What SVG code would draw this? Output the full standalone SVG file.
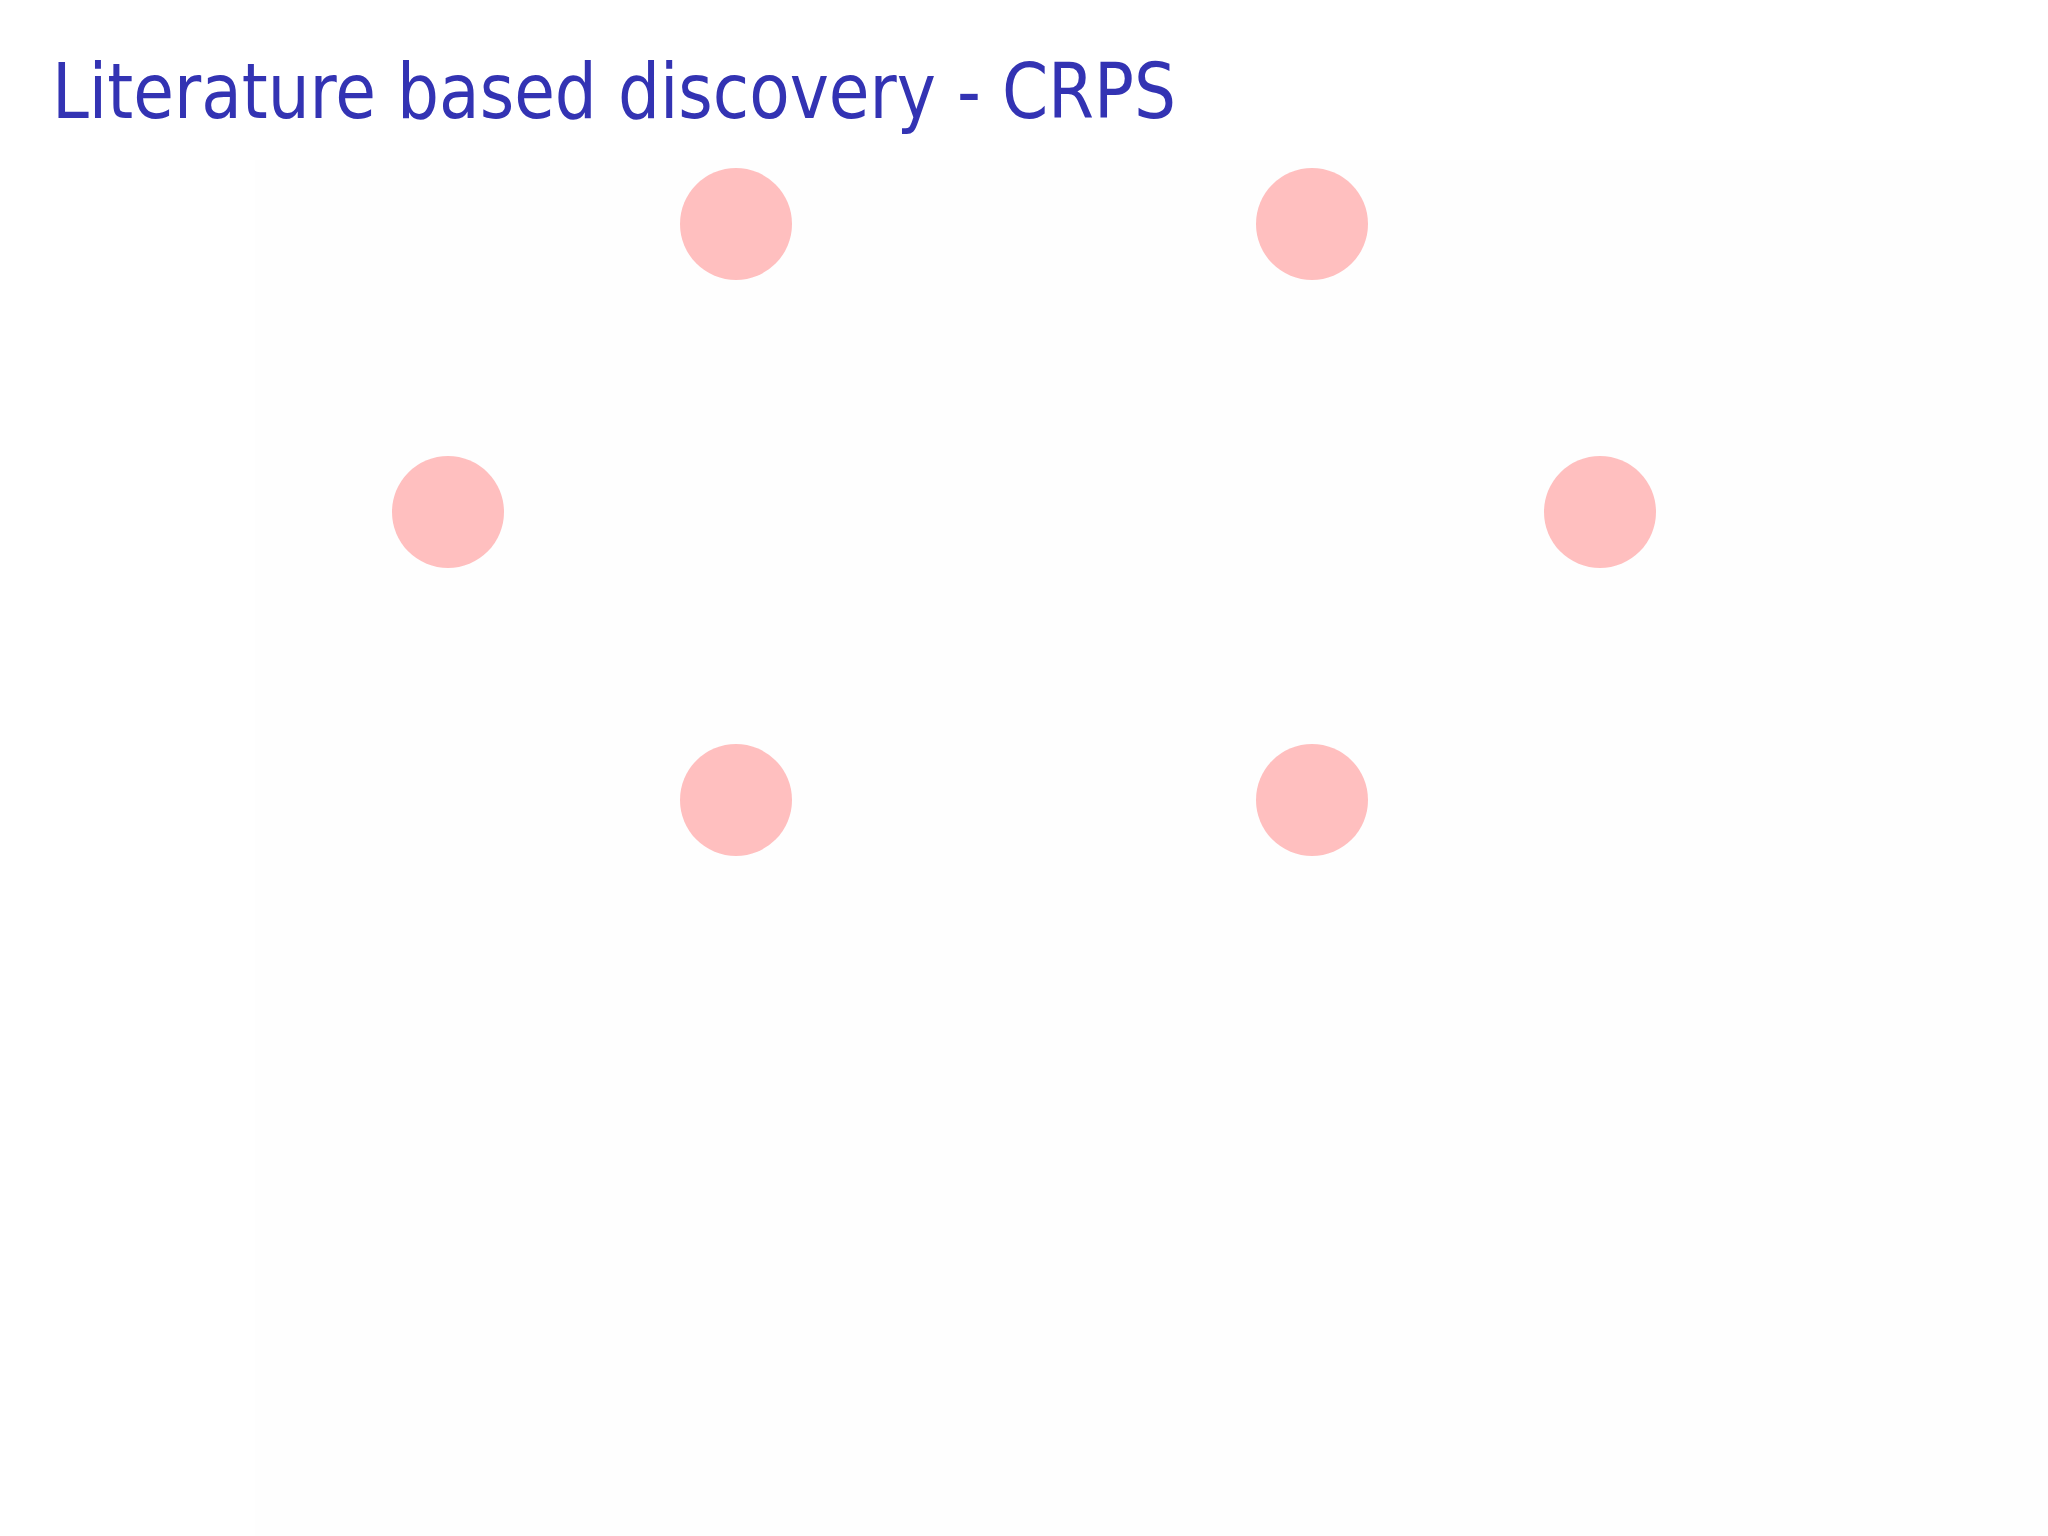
<svg xmlns="http://www.w3.org/2000/svg" width="2048" height="1536" viewBox="0 0 2048 1536">
<style>
.title{font-family:"DejaVu Sans","Liberation Sans",sans-serif;font-size:76px;fill:#3333B3}
.node{fill:#FFBFBF}
</style>
<rect x="0" y="0" width="2048" height="1536" fill="#FFFFFF"/>
<rect x="255" y="160" width="1793" height="1376" fill="#FEFEFE"/>
<text class="title" x="52" y="118" textLength="1124" lengthAdjust="spacingAndGlyphs">Literature based discovery - CRPS</text>
<g id="connectors"></g>
<g id="n1"><circle class="node" cx="736" cy="224" r="56"/></g>
<g id="n2"><circle class="node" cx="1312" cy="224" r="56"/></g>
<g id="n3"><circle class="node" cx="448" cy="512" r="56"/></g>
<g id="n4"><circle class="node" cx="1600" cy="512" r="56"/></g>
<g id="n5"><circle class="node" cx="736" cy="800" r="56"/></g>
<g id="n6"><circle class="node" cx="1312" cy="800" r="56"/></g>
</svg>
